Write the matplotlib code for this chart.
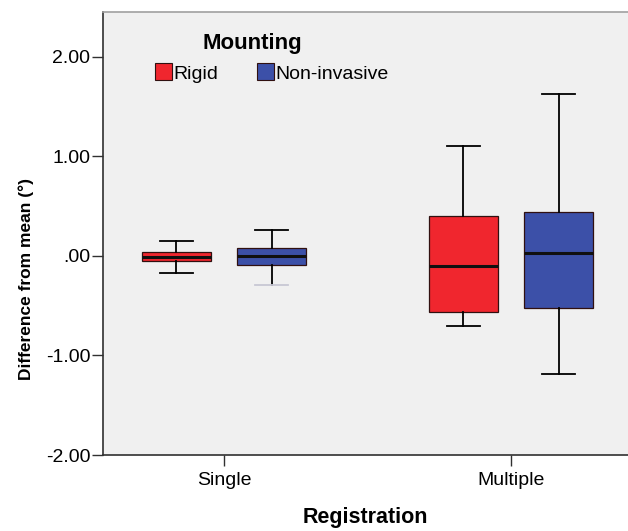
"""Box plot: difference from mean by registration type and mounting."""

import matplotlib

matplotlib.use("Agg")
import matplotlib.pyplot as plt
from matplotlib.patches import Patch

plt.rcParams["font.family"] = ["Liberation Sans", "DejaVu Sans"]

CATEGORIES = ["Single", "Multiple"]
GROUPS = ["Rigid", "Non-invasive"]
GROUP_COLORS = ["#f0262e", "#3c50a8"]

# five-number summaries, one list per group (Single, Multiple)
WHISKER_LOW = {"Rigid": [-0.17, -0.70], "Non-invasive": [-0.29, -1.19]}
Q1 = {"Rigid": [-0.05, -0.56], "Non-invasive": [-0.09, -0.52]}
MEDIAN = {"Rigid": [-0.01, -0.10], "Non-invasive": [0.00, 0.03]}
Q3 = {"Rigid": [0.04, 0.40], "Non-invasive": [0.08, 0.44]}
WHISKER_HIGH = {"Rigid": [0.15, 1.10], "Non-invasive": [0.26, 1.62]}

Y_TICKS = [-2.0, -1.0, 0.0, 1.0, 2.0]
Y_TICK_LABELS = ["-2.00", "-1.00", ".00", "1.00", "2.00"]


def main() -> None:
    fig = plt.figure(figsize=(6.28, 5.31), dpi=100)
    ax = fig.add_axes([0.164, 0.143, 0.836, 0.834])
    ax.set_facecolor("#f0f0f0")

    offsets = [-0.167, 0.167]
    for g, group in enumerate(GROUPS):
        stats = []
        positions = []
        for c, _ in enumerate(CATEGORIES):
            stats.append(
                {
                    "whislo": WHISKER_LOW[group][c],
                    "q1": Q1[group][c],
                    "med": MEDIAN[group][c],
                    "q3": Q3[group][c],
                    "whishi": WHISKER_HIGH[group][c],
                    "fliers": [],
                }
            )
            positions.append(c + offsets[g])
        parts = ax.bxp(
            stats,
            positions=positions,
            widths=0.24,
            capwidths=0.115,
            patch_artist=True,
            showfliers=False,
            boxprops={"facecolor": GROUP_COLORS[g], "edgecolor": "#301010", "linewidth": 0.9},
            medianprops={"color": "#101010", "linewidth": 2.2},
            whiskerprops={"color": "black", "linewidth": 1.3},
            capprops={"color": "black", "linewidth": 1.3},
        )
        if group == "Non-invasive":
            # lower cap of the single-registration box is very faint in the source
            parts["caps"][0].set_color("#c8c8d4")

    ax.set_xlim(-0.4216, 1.4077)
    ax.set_ylim(-2.0, 2.446)
    ax.set_xticks(range(len(CATEGORIES)))
    ax.set_xticklabels(CATEGORIES)
    ax.set_yticks(Y_TICKS)
    ax.set_yticklabels(Y_TICK_LABELS)
    ax.tick_params(axis="both", labelsize=14, length=8, width=1.0, color="#303030", pad=1)
    ax.tick_params(axis="x", pad=4)

    ax.spines["right"].set_visible(False)
    ax.spines["top"].set_color("#a0a0a0")
    ax.spines["left"].set_color("#303030")
    ax.spines["bottom"].set_color("#303030")
    for side in ("left", "bottom", "top"):
        ax.spines[side].set_linewidth(1.2)

    ax.set_xlabel("Registration", fontsize=15.5, fontweight="bold", labelpad=13)
    ax.set_ylabel("Difference from mean (°)", fontsize=12.5, fontweight="bold")
    ax.yaxis.set_label_coords(-0.132, 0.397)

    handles = [Patch(facecolor=col, edgecolor="#301010", linewidth=0.8) for col in GROUP_COLORS]
    ax.legend(
        handles,
        GROUPS,
        ncol=2,
        frameon=False,
        fontsize=14,
        handlelength=0.87,
        handleheight=0.95,
        handletextpad=0.08,
        columnspacing=2.0,
        loc="center left",
        bbox_to_anchor=(155 / 628, 1 - 73 / 531),
        bbox_transform=fig.transFigure,
        borderaxespad=0,
        borderpad=0,
    )
    fig.text(203 / 628, 1 - 43 / 531, "Mounting", fontsize=16, fontweight="bold", ha="left", va="center")

    fig.savefig("out.png", dpi=100)
    plt.close(fig)


if __name__ == "__main__":
    main()
